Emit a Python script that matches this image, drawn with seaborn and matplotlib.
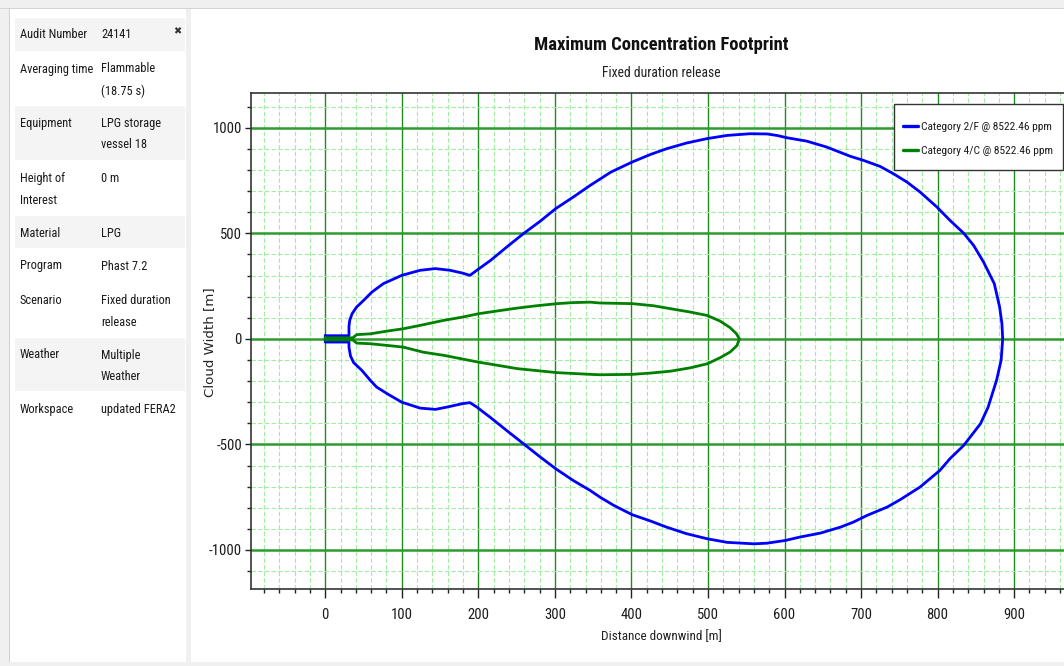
import matplotlib
matplotlib.use("Agg")
import matplotlib.pyplot as plt
import matplotlib.font_manager as fm
from matplotlib.patches import Rectangle
from matplotlib.ticker import MultipleLocator, FixedLocator
import pandas as pd
import seaborn as sns

# ---------------------------------------------------------------- data
series_names = ["Category 2/F @ 8522.46 ppm", "Category 4/C @ 8522.46 ppm"]
series_colors = ["#0000ff", "#008000"]

# Category 2/F footprint contour (closed, distance downwind vs cloud width, m)
cat2f_x = [0, 31, 31, 32, 35, 41, 50, 61, 76, 100, 124, 144, 163, 179, 189, 198,
           216, 237, 259, 281, 301, 324, 346, 373, 401, 425, 446, 472, 499, 525,
           555, 577, 590, 603, 629, 655, 686, 703, 725, 742, 760, 777, 799, 816,
           834, 847, 860, 874, 881, 884, 885,
           883, 877, 866, 856, 834, 816, 803, 777, 751, 734, 708, 690, 673, 647,
           620, 601, 577, 560, 525, 499, 472, 446, 425, 401, 377, 359, 346, 324,
           301, 281, 259, 237, 216, 198, 189, 179, 163, 144, 124, 100, 81, 67, 59,
           48, 37, 33, 31, 31, 0, 0]
cat2f_y = [15, 15, 60, 88, 119, 151, 182, 222, 262, 301, 325, 333, 325, 312, 301, 325,
           372, 435, 499, 558, 617, 672, 727, 790, 838, 874, 901, 928, 949, 964,
           972, 971, 964, 953, 937, 909, 865, 846, 817, 783, 743, 696, 625, 562,
           501, 443, 364, 262, 151, 72, 0,
           -100, -196, -323, -402, -505, -568, -623, -702, -762, -797, -836, -868, -892, -920,
           -939, -955, -968, -971, -964, -947, -923, -892, -863, -833, -789, -750, -718, -671,
           -615, -560, -497, -434, -373, -323, -302, -307, -320, -334, -328, -300, -260, -228, -197,
           -150, -112, -81, -40, -15, -15, 15]

# Category 4/C footprint contour
cat4c_x = [0, 36, 41, 59, 81, 102, 128, 155, 179, 200, 224, 251, 276, 303, 324, 346,
           359, 401, 429, 451, 477, 499, 516, 529, 537, 541, 538, 529, 516, 499, 477,
           451, 425, 401, 359, 346, 303, 251, 200, 155, 128, 102, 81, 59, 41, 36, 0, 0]
cat4c_y = [5, 5, 20, 24, 37, 48, 67, 88, 103, 119, 132, 146, 157, 167, 172, 174,
           170, 167, 157, 143, 127, 111, 84, 53, 25, 1, -31, -62, -89, -118, -137,
           -153, -162, -168, -170, -168, -160, -141, -110, -78, -63, -39, -31, -23, -20, -5, -5, 5]

x_ticks = [0, 100, 200, 300, 400, 500, 600, 700, 800, 900]
y_ticks = [-1000, -500, 0, 500, 1000]

info_labels = ["Audit Number", "Averaging time", "Equipment", "Height of\nInterest",
               "Material", "Program", "Scenario", "Weather", "Workspace"]
info_values = ["24141", "Flammable\n(18.75 s)", "LPG storage\nvessel 18", "0 m",
               "LPG", "Phast 7.2", "Fixed duration\nrelease", "Multiple\nWeather",
               "updated FERA2"]

# ---------------------------------------------------------------- fonts
sns.set_theme(style="white")
plt.rcParams["axes.unicode_minus"] = False
available = {f.name for f in fm.fontManager.ttflist}
narrow = next((n for n in ["Liberation Sans Narrow", "Roboto Condensed",
                           "Open Sans Condensed"] if n in available), None)
if narrow:
    UI_FONT, SCALE = narrow, 1.0
else:
    UI_FONT, SCALE = "Roboto", 0.82
plt.rcParams["font.family"] = [UI_FONT, "DejaVu Sans"]


def fs(v):
    return v * SCALE


# ---------------------------------------------------------------- figure
W, H = 1064, 666
fig = plt.figure(figsize=(W / 100, H / 100), dpi=100, facecolor="white")


def fx(x):
    return x / W


def fy(y):
    return 1 - y / H


def px_box(x0, y0, x1, y1, color, edge="none", lw=0.0, z=0):
    return Rectangle((fx(x0), fy(y1)), (x1 - x0) / W, (y1 - y0) / H,
                     transform=fig.transFigure, facecolor=color,
                     edgecolor=edge, linewidth=lw, zorder=z)


def px_rect(x0, y0, x1, y1, color, z=0):
    fig.add_artist(px_box(x0, y0, x1, y1, color, z=z))


# window chrome
px_rect(0, 0, W, 8, "#f0f0f0")
px_rect(0, 8, W, 9, "#d4d4d4")
px_rect(0, 9, 9, H, "#f0f0f0")
px_rect(9, 9, 10, 662, "#d0d0d0")
px_rect(186, 9, 191, 662, "#f0f0f0")
px_rect(0, 662, W, H, "#f0f0f0")

# info table
row_bounds = [(18, 51), (52, 105), (106, 160), (161, 214), (216, 248),
              (249, 283), (284, 337), (338, 391), (392, 432)]
row_shaded = [True, False, True, False, True, False, False, True, False]
for (top, bot), shaded, lab, val in zip(row_bounds, row_shaded, info_labels, info_values):
    if shaded:
        px_rect(15, top, 185, bot, "#f4f4f4")
    for i, line in enumerate(lab.split("\n")):
        fig.text(fx(20), fy(top + 17 + 22 * i), line, fontsize=fs(8.9),
                 color="#1a1a1a", va="center", ha="left")
    for i, line in enumerate(val.split("\n")):
        fig.text(fx(101), fy(top + 17 + 22 * i), line, fontsize=fs(8.9),
                 color="#1a1a1a", va="center", ha="left")
fig.text(fx(177), fy(31), "\u2716", fontsize=7, color="#333333",
         ha="center", va="center", family="DejaVu Sans")

# ---------------------------------------------------------------- axes
ax_left, ax_right, ax_top, ax_bot = 251, 1080, 93, 589
ax = fig.add_axes([ax_left / W, 1 - ax_bot / H, (ax_right - ax_left) / W,
                   (ax_bot - ax_top) / H])
ax.set_facecolor("white")

df = pd.concat([
    pd.DataFrame({"x": cat2f_x, "y": cat2f_y, "series": series_names[0]}),
    pd.DataFrame({"x": cat4c_x, "y": cat4c_y, "series": series_names[1]}),
], ignore_index=True)

sns.lineplot(data=df, x="x", y="y", hue="series", sort=False, estimator=None,
             palette=dict(zip(series_names, series_colors)), linewidth=2.0,
             ax=ax, zorder=3)
for ln in ax.get_lines():
    ln.set_solid_joinstyle("round")

ax.set_xlim(-97, 986)
ax.set_ylim(-1185, 1165)
ax.xaxis.set_major_locator(FixedLocator(x_ticks))
ax.xaxis.set_minor_locator(MultipleLocator(20))
ax.yaxis.set_major_locator(FixedLocator(y_ticks))
ax.yaxis.set_minor_locator(MultipleLocator(100))
ax.set_xticklabels([str(v) for v in x_ticks])
ax.set_yticklabels([str(v) for v in y_ticks])

ax.set_axisbelow(True)
ax.xaxis.grid(True, which="minor", color="#a3eca3", lw=0.8, ls=(0, (4, 2)))
ax.yaxis.grid(True, which="minor", color="#a3eca3", lw=0.8, ls=(0, (4, 2)))
ax.xaxis.grid(True, which="major", color="#1e8c1e", lw=1.0)
ax.yaxis.grid(True, which="major", color="#2f9a2f", lw=1.8)

ax.tick_params(axis="both", which="both", direction="out", colors="#222222",
               labelcolor="#1a1a1a", labelsize=fs(10.5), width=1.0)
ax.tick_params(axis="x", which="major", length=6.5, pad=7)
ax.tick_params(axis="x", which="minor", length=3)
ax.tick_params(axis="y", which="major", length=4.5, pad=2)
ax.tick_params(axis="y", which="minor", length=3)
ax.tick_params(left=True, bottom=True, which="both")

for side in ["left", "bottom", "top"]:
    ax.spines[side].set_color("#333333")
    ax.spines[side].set_linewidth(1.2)
ax.spines["right"].set_visible(False)

ax.set_xlabel("")
ax.set_ylabel("")

# titles and axis labels
fig.text(fx(661), fy(45), "Maximum Concentration Footprint", fontsize=fs(13.4),
         fontweight="bold", ha="center", va="center", color="#111111")
fig.text(fx(661), fy(73), "Fixed duration release", fontsize=fs(9.8),
         ha="center", va="center", color="#222222")
fig.text(fx(661), fy(637), "Distance downwind [m]", fontsize=fs(9.5),
         ha="center", va="center", color="#222222")
fig.text(fx(210), fy(342), "Cloud Width [m]", fontsize=9.6, rotation=90,
         ha="center", va="center", color="#222222", family="DejaVu Sans")

# legend: boxed panel in the upper right, entries drawn by seaborn's legend
legend_box = px_box(894, 104, 1063, 170, "white", edge="#333333", lw=1.0, z=4.5)
legend_box.set_clip_on(False)
ax.add_patch(legend_box)
sns.move_legend(ax, "center left", bbox_to_anchor=(fx(903), fy(139)),
                bbox_transform=fig.transFigure, title=None, frameon=False,
                fontsize=fs(8.2), handlelength=1.3, handletextpad=0.25,
                borderpad=0, labelspacing=1.15, borderaxespad=0)
leg = ax.get_legend()
leg.set_zorder(6)
for t in leg.get_texts():
    t.set_color("#1a1a1a")
for h in leg.legend_handles:
    h.set_linewidth(2.4)

fig.savefig("out.png", dpi=100, facecolor=fig.get_facecolor())
